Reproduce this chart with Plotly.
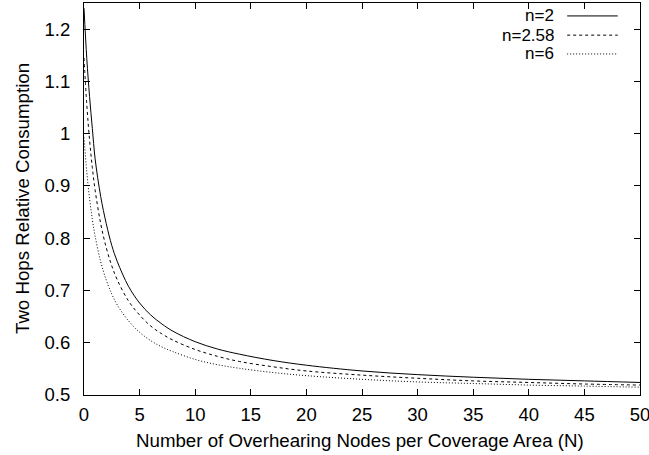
import plotly.graph_objects as go

N_values = [0, 0.25, 0.5, 0.75, 1, 1.5, 2, 2.5, 3, 4, 5, 6, 7, 8, 10, 12, 14, 17, 20, 25, 30, 35, 40, 45, 50]
n2 = [1.240, 1.144, 1.071, 1.010, 0.952, 0.880, 0.828, 0.786, 0.755, 0.708, 0.676, 0.653, 0.636, 0.622,
      0.602, 0.588, 0.578, 0.566, 0.557, 0.546, 0.539, 0.534, 0.530, 0.527, 0.524]
n258 = [1.145, 1.056, 0.988, 0.935, 0.892, 0.828, 0.782, 0.747, 0.720, 0.680, 0.653, 0.632, 0.617, 0.605,
        0.587, 0.574, 0.564, 0.554, 0.546, 0.538, 0.532, 0.527, 0.524, 0.521, 0.519]
n6 = [0.993, 0.927, 0.876, 0.836, 0.804, 0.755, 0.720, 0.693, 0.672, 0.642, 0.620, 0.604, 0.592, 0.583,
      0.568, 0.558, 0.551, 0.543, 0.537, 0.530, 0.525, 0.522, 0.519, 0.517, 0.515]
series_names = ["n=2", "n=2.58", "n=6"]
x_ticks = [0, 5, 10, 15, 20, 25, 30, 35, 40, 45, 50]
y_ticks = [0.5, 0.6, 0.7, 0.8, 0.9, 1.0, 1.1, 1.2]
y_tick_labels = ["0.5", "0.6", "0.7", "0.8", "0.9", "1", "1.1", "1.2"]
x_title = "Number of Overhearing Nodes per Coverage Area (N)"
y_title = "Two Hops Relative Consumption"

FONT = "Liberation Sans, Arial, Helvetica, sans-serif"
FS_TICK = 18.5
FS_TITLE = 18.7
FS_KEY = 17
dashes = ["solid", "3px,3px", "1px,2px"]

fig = go.Figure()
for name, ys, d in zip(series_names, [n2, n258, n6], dashes):
    fig.add_trace(go.Scatter(x=N_values, y=ys, mode="lines", name=name,
                             line=dict(color="black", width=1, dash=d, shape="spline"),
                             showlegend=False))

# gnuplot-style key: right-aligned text with line sample to its right
key_rows = [0.967, 0.918, 0.870]
for name, d, yk in zip(series_names, dashes, key_rows):
    fig.add_annotation(x=0.847, y=yk, xref="paper", yref="paper", text=name, showarrow=False,
                       xanchor="right", yanchor="middle", borderpad=0,
                       font=dict(family=FONT, size=FS_KEY, color="black"))
    fig.add_shape(type="line", xref="paper", yref="paper", x0=0.869, x1=0.960, y0=yk, y1=yk,
                  line=dict(color="black", width=1, dash=d))

fig.add_annotation(x=0.497, y=-0.115, xref="paper", yref="paper", text=x_title, showarrow=False,
                   xanchor="center", yanchor="middle", font=dict(family=FONT, size=FS_TITLE, color="black"))
fig.add_annotation(x=-0.1115, y=0.5, xref="paper", yref="paper", text=y_title, showarrow=False,
                   textangle=-90, xanchor="center", yanchor="middle",
                   font=dict(family=FONT, size=FS_TITLE, color="black"))

axis_common = dict(showline=True, linecolor="black", linewidth=1, mirror="allticks",
                   ticks="inside", ticklen=6, tickcolor="black", tickwidth=1,
                   showgrid=False, zeroline=False, automargin=False,
                   tickfont=dict(family=FONT, size=FS_TICK, color="black"))

fig.update_xaxes(range=[0, 50], tickvals=x_ticks, ticktext=[str(t) for t in x_ticks],
                 ticklabelstandoff=3, ticklabeloverflow="allow", **axis_common)
fig.update_yaxes(range=[0.5, 1.25], tickvals=y_ticks, ticktext=y_tick_labels,
                 ticklabelstandoff=9, **axis_common)

fig.update_layout(width=649, height=455, margin=dict(l=84, r=9, t=3, b=60),
                  plot_bgcolor="white", paper_bgcolor="white",
                  font=dict(family=FONT, size=FS_TICK, color="black"))

fig.write_html("out.html", config={"displayModeBar": False},
               post_script="document.body.style.margin='0';")
